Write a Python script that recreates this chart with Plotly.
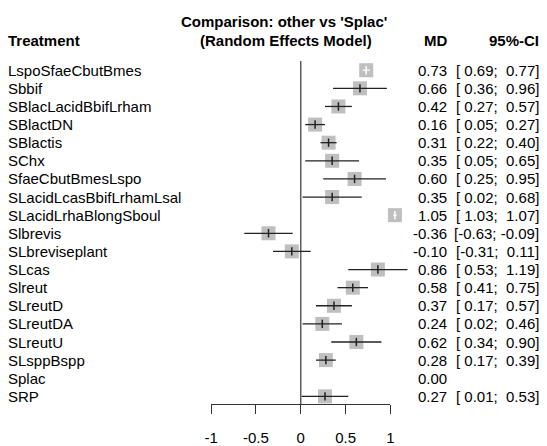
import plotly.graph_objects as go

# ---------------- data ----------------
treatments = ["LspoSfaeCbutBmes", "Sbbif", "SBlacLacidBbifLrham", "SBlactDN", "SBlactis",
              "SChx", "SfaeCbutBmesLspo", "SLacidLcasBbifLrhamLsal", "SLacidLrhaBlongSboul",
              "Slbrevis", "SLbreviseplant", "SLcas", "Slreut", "SLreutD", "SLreutDA",
              "SLreutU", "SLsppBspp", "Splac", "SRP"]
md = [0.73, 0.66, 0.42, 0.16, 0.31, 0.35, 0.60, 0.35, 1.05, -0.36, -0.10, 0.86, 0.58,
      0.37, 0.24, 0.62, 0.28, 0.00, 0.27]
lower = [0.69, 0.36, 0.27, 0.05, 0.22, 0.05, 0.25, 0.02, 1.03, -0.63, -0.31, 0.53, 0.41,
         0.17, 0.02, 0.34, 0.17, None, 0.01]
upper = [0.77, 0.96, 0.57, 0.27, 0.40, 0.65, 0.95, 0.68, 1.07, -0.09, 0.11, 1.19, 0.75,
         0.57, 0.46, 0.90, 0.39, None, 0.53]
tick_vals = [-1, -0.5, 0, 0.5, 1]
tick_text = ["-1", "-0.5", "0", "0.5", "1"]
ref_value = 0
reference = "Splac"

# ---------------- layout constants ----------------
W, H = 547, 446
X0PX, XSCALE = 299.8, 91.5      # pixel of 0, pixels per unit
Y0PX, YSTEP = 71.5, 18.45       # pixel of first row, pixels per row
SQ = 14                         # square size px
FONT = "Liberation Sans, Arial, Helvetica, sans-serif"
FS = 15

xr = [-X0PX / XSCALE, (W - X0PX) / XSCALE]
yr = [(H - Y0PX) / YSTEP, -Y0PX / YSTEP]

def ypx_to_row(p):
    return (p - Y0PX) / YSTEP

rows = list(range(len(treatments)))
half = (SQ / 2) / XSCALE

has_ci = [lo is not None for lo in lower]
inside = [has_ci[i] and lower[i] >= md[i] - half and upper[i] <= md[i] + half for i in rows]

fig = go.Figure()

# reference vertical line
fig.add_trace(go.Scatter(x=[ref_value, ref_value], y=[ypx_to_row(62), ypx_to_row(411.7)],
                         mode="lines", line=dict(color="#444444", width=1.3),
                         hoverinfo="skip", showlegend=False))

# squares
sq_idx = [i for i in rows if has_ci[i]]
fig.add_trace(go.Scatter(x=[md[i] for i in sq_idx], y=sq_idx, mode="markers",
                         marker=dict(symbol="square", size=SQ, color="#BFBFBF",
                                     line=dict(width=0)),
                         hoverinfo="skip", showlegend=False))

def ci_segments(idx):
    xs, ys = [], []
    for i in idx:
        xs += [lower[i], upper[i], None]
        ys += [i, i, None]
    return xs, ys

out_idx = [i for i in rows if has_ci[i] and not inside[i]]
in_idx = [i for i in rows if inside[i]]
for idx, col in ((out_idx, "#222222"), (in_idx, "#FFFFFF")):
    xs, ys = ci_segments(idx)
    fig.add_trace(go.Scatter(x=xs, y=ys, mode="lines", line=dict(color=col, width=1.3),
                             hoverinfo="skip", showlegend=False))
    fig.add_trace(go.Scatter(x=[md[i] for i in idx], y=idx, mode="markers",
                             marker=dict(symbol="line-ns", size=6,
                                         line=dict(color=col, width=1.5)),
                             hoverinfo="skip", showlegend=False))

# text columns
ann = []
def txt(x, y, s, anchor="left", bold=False, yref="paper"):
    ann.append(dict(x=x / W, y=y, xref="paper", yref=yref, text=("<b>%s</b>" % s) if bold else s,
                    showarrow=False, xanchor=anchor, yanchor="middle",
                    font=dict(family=FONT, size=FS, color="#000000")))

def ypaper(p):
    return 1 - p / H

txt(283, ypaper(22), "Comparison: other vs '%s'" % reference, "center", True)
txt(285, ypaper(41), "(Random Effects Model)", "center", True)
txt(-1, ypaper(41), "Treatment", "left", True)
txt(437, ypaper(41), "MD", "center", True)
txt(545, ypaper(41), "95%-CI", "right", True)

nb = "\u00a0"
def fmt(v):
    s = "%.2f" % v
    return s if v < 0 else nb + s

for i in rows:
    txt(-1, i, treatments[i], "left", yref="y")
    txt(451, i, "%.2f" % md[i], "right", yref="y")
    if has_ci[i]:
        txt(545, i, "[" + fmt(lower[i]) + ";" + nb + fmt(upper[i]) + "]", "right", yref="y")

ax_bottom = (H - 411.7) / H
fig.update_layout(
    width=W, height=H, margin=dict(l=0, r=0, t=0, b=0),
    paper_bgcolor="white", plot_bgcolor="rgba(0,0,0,0)",
    showlegend=False, annotations=ann,
    xaxis=dict(range=xr, domain=[0, 1], visible=False, fixedrange=True),
    yaxis=dict(range=yr, domain=[0, 1], visible=False, fixedrange=True),
    xaxis2=dict(anchor="y2", domain=[(X0PX - XSCALE) / W, (X0PX + XSCALE) / W],
                range=[tick_vals[0], tick_vals[-1]], tickvals=tick_vals, ticktext=tick_text,
                ticks="outside", ticklen=9, tickwidth=1, tickcolor="#333333",
                showline=True, linecolor="#333333", linewidth=1,
                showgrid=False, zeroline=False, ticklabelstandoff=11,
                tickfont=dict(family=FONT, size=FS, color="#000000"), fixedrange=True),
    yaxis2=dict(anchor="x2", domain=[ax_bottom, ax_bottom + 0.01], visible=False,
                range=[0, 1], fixedrange=True),
)
# dummy trace to activate second axes
fig.add_trace(go.Scatter(x=[None], y=[None], xaxis="x2", yaxis="y2", showlegend=False))

fig.write_html("out.html", config={"displayModeBar": False},
               post_script="document.body.style.margin='0';document.body.style.overflow='hidden';")
